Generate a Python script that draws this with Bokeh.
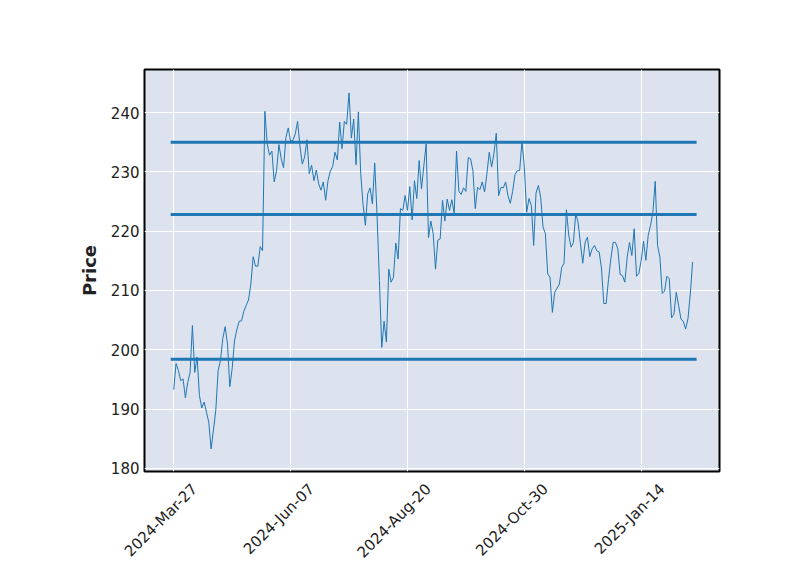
import math
from bokeh.plotting import figure
from bokeh.models import FixedTicker, Range1d, LinearAxis
from bokeh.embed import file_html
from bokeh.resources import INLINE

# ---- data ----
tick_positions = [0, 50, 100, 150, 200]
tick_labels = ["2024-Mar-27", "2024-Jun-07", "2024-Aug-20", "2024-Oct-30", "2025-Jan-14"]

prices = [
    193.3, 197.7, 196.5, 194.8, 195.1, 191.9, 194.5, 196.2, 204.1, 196.2,
    198.8, 192.3, 190.2, 191.2, 189.5, 187.8, 183.3, 186.5, 189.8, 196.5,
    198.2, 201.9, 203.9, 201.0, 193.8, 196.8, 201.5, 203.4, 204.8, 204.9,
    206.5, 207.5, 208.4, 211.1, 215.7, 214.1, 214.1, 217.4, 216.7, 240.2,
    234.7, 232.8, 233.5, 228.3, 230.2, 234.6, 232.2, 230.7, 235.8, 237.4,
    235.2, 235.3, 236.4, 238.5, 234.4, 231.3, 232.5, 235.4, 229.7, 231.1,
    228.5, 230.3, 228.0, 226.9, 228.3, 225.2, 228.5, 230.1, 230.9, 233.3,
    232.0, 238.4, 233.9, 238.5, 238.0, 243.3, 235.7, 238.9, 231.2, 240.1,
    229.7, 224.5, 221.0, 226.3, 227.3, 224.6, 231.5, 222.6, 211.7, 200.4,
    204.8, 201.3, 213.6, 211.4, 212.2, 218.0, 215.3, 223.8, 223.5, 226.0,
    223.5, 227.5, 221.9, 228.5, 225.5, 231.9, 227.1, 231.0, 234.7, 218.9,
    221.7, 219.6, 213.6, 218.5, 218.7, 225.2, 221.7, 225.4, 223.5, 225.3,
    223.0, 233.5, 226.7, 226.2, 227.3, 226.7, 232.4, 232.2, 230.2, 223.8,
    227.4, 227.0, 228.3, 226.6, 229.7, 233.3, 230.8, 233.1, 236.5, 226.0,
    227.4, 227.3, 228.3, 226.0, 224.7, 226.7, 229.5, 230.2, 230.2, 235.2,
    230.8, 223.2, 225.5, 224.3, 217.6, 226.4, 227.7, 225.7, 220.7, 219.6,
    212.8, 212.2, 206.3, 209.7, 210.4, 211.1, 213.9, 214.6, 223.6, 219.3,
    217.3, 218.1, 223.0, 221.5, 217.9, 214.6, 218.1, 219.0, 215.7, 217.0,
    217.6, 216.7, 216.5, 213.8, 207.8, 207.8, 211.8, 215.3, 218.1, 218.1,
    217.0, 212.7, 212.5, 211.4, 215.6, 218.1, 215.9, 220.4, 212.4, 212.9,
    215.1, 218.3, 215.1, 219.3, 221.0, 223.2, 228.4, 217.6, 215.6, 209.5,
    209.9, 212.4, 212.0, 205.4, 206.0, 209.7, 207.5, 205.2, 204.8, 203.5,
    205.2, 209.4, 214.8,
]
hline_levels = [235.0, 222.8, 198.4]
y_ticks = [180, 190, 200, 210, 220, 230, 240]

n = len(prices)
xs = list(range(n))

p = figure(
    width=800, height=575,
    output_backend="svg", toolbar_location=None,
    x_axis_location=None,
    x_range=Range1d(-12.5, 233.5), y_range=Range1d(179.49, 247.25),
    min_border_left=144, min_border_right=81,
    min_border_top=69, min_border_bottom=104,
    background_fill_color="#dce2ee", border_fill_color="white",
)
p.outline_line_color = "black"
p.outline_line_width = 2

p.xgrid.ticker = FixedTicker(ticks=tick_positions)
p.xgrid.grid_line_color = "white"
p.ygrid.grid_line_color = "white"
p.xgrid.grid_line_width = 1
p.ygrid.grid_line_width = 1

p.line(xs, prices, line_color="#1f77b4", line_width=1)

for lvl in hline_levels:
    p.segment(x0=[-1.3], y0=[lvl], x1=[n + 0.7], y1=[lvl],
              line_color="#1f77b4", line_width=3)

# label axis: rotated labels sit slightly right of their tick, as in the reference
label_shift = 9
xaxis = LinearAxis(
    ticker=FixedTicker(ticks=[t + label_shift for t in tick_positions]),
    major_label_overrides={t + label_shift: l for t, l in zip(tick_positions, tick_labels)},
    major_label_orientation=math.pi / 4,
)
p.add_layout(xaxis, "below")

p.yaxis.ticker = FixedTicker(ticks=y_ticks)

for ax in (xaxis, p.yaxis[0]):
    ax.axis_line_color = None
    ax.major_tick_line_color = None
    ax.minor_tick_line_color = None
    ax.major_tick_out = 0
    ax.major_tick_in = 0
    ax.major_label_text_font = "DejaVu Sans"
    ax.major_label_text_font_size = "15px"
    ax.major_label_text_color = "#222222"

xaxis.major_label_standoff = 15
p.yaxis.major_label_standoff = 5

p.yaxis.axis_label = "Price"
p.yaxis.axis_label_text_font = "DejaVu Sans"
p.yaxis.axis_label_text_font_style = "bold"
p.yaxis.axis_label_text_font_size = "18px"
p.yaxis.axis_label_text_color = "#222222"
p.yaxis.axis_label_standoff = 8

open("out.html", "w").write(file_html(p, INLINE))
